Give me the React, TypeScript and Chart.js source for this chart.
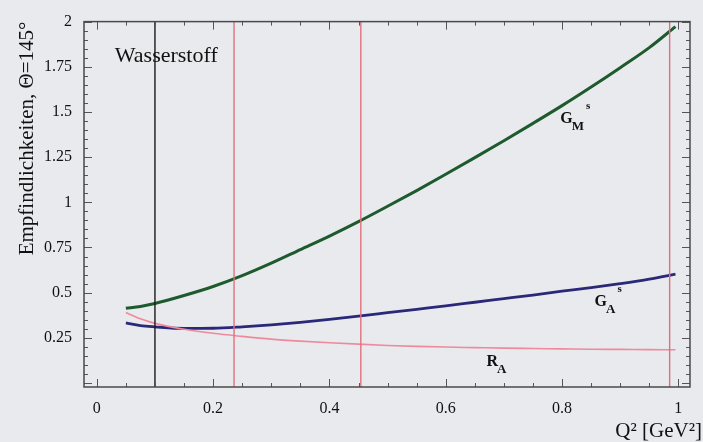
import React, { useEffect, useRef } from "react";
import { Chart, registerables } from "chart.js";

Chart.register(...registerables);

// Momentum transfer grid (GeV^2) shared by the three sensitivity curves
const q2Grid = [0.05, 0.075, 0.1, 0.15, 0.2, 0.25, 0.3, 0.35, 0.4, 0.45, 0.5, 0.55, 0.6, 0.65, 0.7, 0.75, 0.8, 0.85, 0.9, 0.95, 0.995];

// Sensitivities at Theta = 145 degrees
const gmStrange = [0.414, 0.424, 0.44, 0.484, 0.534, 0.594, 0.663, 0.738, 0.813, 0.893, 0.978, 1.065, 1.155, 1.247, 1.341, 1.437, 1.535, 1.638, 1.745, 1.856, 1.972];
const gaStrange = [0.333, 0.318, 0.311, 0.302, 0.303, 0.311, 0.322, 0.336, 0.352, 0.37, 0.389, 0.408, 0.427, 0.447, 0.467, 0.487, 0.508, 0.528, 0.55, 0.575, 0.603];
const rAxial = [0.39, 0.355, 0.33, 0.298, 0.275, 0.258, 0.243, 0.232, 0.223, 0.215, 0.208, 0.203, 0.199, 0.196, 0.193, 0.191, 0.189, 0.187, 0.186, 0.185, 0.184];

// Marked Q^2 settings: hydrogen measurement and further kinematics
const hydrogenQ2 = [0.1];
const kinematicQ2 = [0.236, 0.454, 0.985];

const xTicks = [0, 0.2, 0.4, 0.6, 0.8, 1];
const yTicks = [0.25, 0.5, 0.75, 1, 1.25, 1.5, 1.75, 2];

const X_MIN = -0.022;
const X_MAX = 1.02;
const Y_MIN = -0.022;
const Y_MAX = 2;

// Curve annotations: [main letter, subscript, superscript, q2, value]
const curveLabels: [string, string, string, number, number][] = [
  ["G", "M", "s", 0.797, 1.439],
  ["G", "A", "s", 0.856, 0.425],
  ["R", "A", "", 0.67, 0.093],
];
const targetLabel = "Wasserstoff";
const targetLabelPos = [0.031, 1.777];

const SERIF = "'Liberation Serif', 'Times New Roman', serif";
const INK = "#111111";

const verticalLine = (q: number, color: string) => ({
  type: "line" as const,
  data: [
    { x: q, y: Y_MIN },
    { x: q, y: Y_MAX },
  ],
  borderColor: color,
  borderWidth: 1.4,
  pointRadius: 0,
  tension: 0,
});

const curve = (values: number[], color: string, width: number) => ({
  type: "line" as const,
  data: q2Grid.map((q, i) => ({ x: q, y: values[i] })),
  borderColor: color,
  borderWidth: width,
  pointRadius: 0,
  cubicInterpolationMode: "monotone" as const,
});

const framePlugin = {
  id: "frameAndLabels",
  afterDatasetsDraw(chart: any) {
    const { ctx, chartArea: a, scales } = chart;
    const xs = scales.x;
    const ys = scales.y;
    ctx.save();
    // inward tick marks on all four sides
    ctx.beginPath();
    ctx.strokeStyle = "#555";
    ctx.lineWidth = 1;
    for (let i = 0; i <= 20; i++) {
      const px = Math.round(xs.getPixelForValue(i * 0.05)) + 0.5;
      const len = i % 4 === 0 ? 8 : 4;
      ctx.moveTo(px, a.bottom);
      ctx.lineTo(px, a.bottom - len);
      ctx.moveTo(px, a.top);
      ctx.lineTo(px, a.top + len);
    }
    for (let i = 0; i <= 40; i++) {
      const py = Math.round(ys.getPixelForValue(i * 0.05)) + 0.5;
      const len = i % 5 === 0 ? 8 : 4;
      ctx.moveTo(a.left, py);
      ctx.lineTo(a.left + len, py);
      ctx.moveTo(a.right, py);
      ctx.lineTo(a.right - len, py);
    }
    ctx.stroke();
    // frame
    ctx.strokeStyle = "#4a4a4a";
    ctx.lineWidth = 1.5;
    ctx.strokeRect(a.left, a.top, a.right - a.left, a.bottom - a.top);

    // text annotations
    ctx.fillStyle = INK;
    ctx.textBaseline = "alphabetic";
    ctx.textAlign = "left";
    ctx.font = `22px ${SERIF}`;
    ctx.fillText(targetLabel, xs.getPixelForValue(targetLabelPos[0]), ys.getPixelForValue(targetLabelPos[1]));

    curveLabels.forEach(([main, sub, sup, q, v]) => {
      const px = xs.getPixelForValue(q);
      const py = ys.getPixelForValue(v);
      ctx.font = `bold 16px ${SERIF}`;
      ctx.fillText(main, px, py);
      const w1 = ctx.measureText(main).width;
      ctx.font = `bold 13px ${SERIF}`;
      ctx.fillText(sub, px + w1 - 1, py + 7);
      const w2 = ctx.measureText(sub).width;
      if (sup) {
        ctx.font = `bold 11px ${SERIF}`;
        ctx.fillText(sup, px + w1 + w2 + 1, py - 14);
      }
    });

    // x-axis title at the lower right corner
    ctx.font = `21px ${SERIF}`;
    ctx.textAlign = "right";
    ctx.fillText("Q\u00b2 [GeV\u00b2]", 702, 437);
    ctx.restore();
  },
};

export default function App() {
  const canvasRef = useRef<HTMLCanvasElement | null>(null);

  useEffect(() => {
    if (!canvasRef.current) return;
    const chart = new Chart(canvasRef.current, {
      type: "line",
      data: {
        datasets: [
          verticalLine(hydrogenQ2[0], "#1a1a1a"),
          ...kinematicQ2.map((q) => verticalLine(q, "#e0707e")),
          curve(rAxial, "#ef8a9c", 1.6),
          curve(gaStrange, "#2a2878", 2.8),
          curve(gmStrange, "#1d5a2e", 3),
        ] as any,
      },
      options: {
        responsive: false,
        animation: false,
        events: [],
        layout: { padding: { top: 16, right: 13, left: 0, bottom: 0 } },
        plugins: { legend: { display: false }, tooltip: { enabled: false } },
        scales: {
          x: {
            type: "linear",
            min: X_MIN,
            max: X_MAX,
            grid: { display: false, drawTicks: false },
            border: { display: false },
            afterBuildTicks: (s: any) => {
              s.ticks = xTicks.map((v) => ({ value: v }));
            },
            afterFit: (s: any) => {
              s.height = 55;
            },
            ticks: {
              padding: 12,
              maxRotation: 0,
              color: INK,
              font: { family: SERIF, size: 16 },
              callback: (v: any) => String(v),
            },
          },
          y: {
            type: "linear",
            min: Y_MIN,
            max: Y_MAX,
            grid: { display: false, drawTicks: false },
            border: { display: false },
            afterBuildTicks: (s: any) => {
              s.ticks = yTicks.map((v) => ({ value: v }));
            },
            afterFit: (s: any) => {
              s.width = 84;
            },
            ticks: {
              padding: 12,
              color: INK,
              font: { family: SERIF, size: 16 },
              callback: (v: any) => String(v),
            },
            title: {
              display: true,
              text: "Empfindlichkeiten, \u0398=145\u00b0",
              align: "end",
              color: INK,
              font: { family: SERIF, size: 21 },
              padding: { top: 15, bottom: 0 },
            },
          },
        },
      },
      plugins: [framePlugin],
    });
    return () => chart.destroy();
  }, []);

  return (
    <div
      style={{
        position: "absolute",
        left: 0,
        top: 0,
        width: 703,
        height: 442,
        background: "#e9eaee",
        overflow: "hidden",
      }}
    >
      <canvas ref={canvasRef} width={703} height={442} style={{ display: "block" }} />
    </div>
  );
}
